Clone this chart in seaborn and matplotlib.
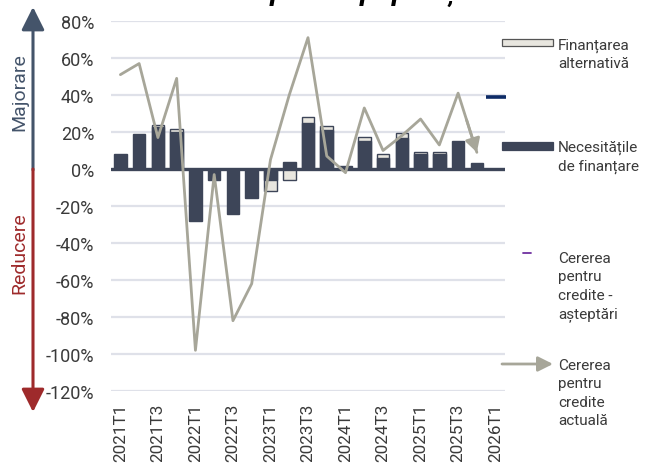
import numpy as np
import matplotlib
matplotlib.use("Agg")
import matplotlib.pyplot as plt
from matplotlib.patches import Rectangle
import seaborn as sns

# ---------------- data ----------------
quarters = ['2021T1', '2021T2', '2021T3', '2021T4', '2022T1', '2022T2', '2022T3', '2022T4',
            '2023T1', '2023T2', '2023T3', '2023T4', '2024T1', '2024T2', '2024T3', '2024T4',
            '2025T1', '2025T2', '2025T3', '2025T4', '2026T1']
necesitati = [8, 19, 22.5, 20, -28, -6, -24.5, -15.5, -6, 4, 25, 21, 1.5, 15, 6, 17, 8, 8, 15, 3, 0]
alternativa = [0, 0, 1.5, 1.5, 0, 0, 0, 0, -6, -6, 3, 2.5, 0, 2.5, 2, 2.5, 1, 1, 0, 0, 0]
cerere_actuala = [51, 57, 17, 49, -98, -3, -82, -62, 5, 40, 71, 7, -2, 33, 10, 18, 27, 13, 41, 9]
cerere_asteptari = [39]
yticks = [80, 60, 40, 20, 0, -20, -40, -60, -80, -100, -120]

title = 'Credite pentru populație'
leg_labels = [['Finanțarea', 'alternativă'],
              ['Necesitățile', 'de finanțare'],
              ['Cererea', 'pentru', 'credite -', 'așteptări'],
              ['Cererea', 'pentru', 'credite', 'actuală']]

# ---------------- style ----------------
navy = '#3d4558'
light = '#e8e6df'
line_c = '#a7a699'
grid_c = '#dfe1e9'
expect_c = '#0d2b66'
purple = '#7030a0'
slate = '#44546a'
red = '#9e2a2b'
txt_c = '#3a3a3a'

sns.set_style('white')
plt.rcParams['font.family'] = ['Roboto', 'DejaVu Sans']

W, H = 648, 464
fig = plt.figure(figsize=(W / 100, H / 100), dpi=100)
ax = fig.add_axes([111 / W, (H - 392) / H, 394 / W, 370 / H])

# stacked ends for the alternative-financing part
alt_end = [n + a if (n * a > 0) else a for n, a in zip(necesitati, alternativa)]

sns.barplot(x=quarters, y=alt_end, order=quarters, color=light, saturation=1,
            width=0.67, edgecolor=navy, linewidth=1.0, ax=ax, zorder=2)
sns.barplot(x=quarters, y=necesitati, order=quarters, color=navy, saturation=1,
            width=0.67, edgecolor=navy, linewidth=1.0, ax=ax, zorder=3)

ax.axhline(0, color=navy, lw=2.4, zorder=4)

xs = np.arange(len(cerere_actuala))
sns.lineplot(x=xs, y=cerere_actuala, color=line_c, lw=2, ax=ax, zorder=5,
             sort=False, estimator=None)
# arrowhead on the last segment
x1, y1 = xs[-1], cerere_actuala[-1]
x0, y0 = xs[-2], cerere_actuala[-2]
t = 0.55
ax.annotate('', xy=(x1, y1), xytext=(x1 - t * (x1 - x0), y1 - t * (y1 - y0)),
            arrowprops=dict(arrowstyle='-|>,head_length=0.9,head_width=0.5',
                            color=line_c, lw=2, shrinkA=0, shrinkB=0,
                            mutation_scale=9), zorder=6)

sns.scatterplot(x=[len(quarters) - 1], y=cerere_asteptari, marker='_', s=220,
                color=expect_c, linewidth=2.6, ax=ax, zorder=6)

ax.set_xlim(-0.5, len(quarters) - 0.5)
ax.set_ylim(-120, 80)
ax.set_yticks(yticks)
ax.set_yticklabels([f'{v}%' for v in yticks], fontsize=13, color=txt_c)
ax.set_xticks(range(0, len(quarters), 2))
ax.set_xticklabels(quarters[::2], rotation=90, fontsize=12.3, color=txt_c)
ax.tick_params(axis='y', length=0, pad=12)
ax.tick_params(axis='x', length=0, pad=8.5)
ax.grid(axis='y', color=grid_c, lw=1.6, zorder=0)
ax.grid(axis='x', visible=False)
ax.set_axisbelow(True)
for s in ax.spines.values():
    s.set_visible(False)
ax.set_xlabel('')
ax.set_ylabel('')
if ax.get_legend():
    ax.get_legend().remove()

# ---------------- title (cut off at top, as in the source) ----------------
fig.text(325 / W, (H + 0.5) / H, title, ha='center', va='baseline', fontsize=21,
         fontweight='bold', fontstyle='italic', color='black')

# ---------------- left direction arrows ----------------
def fpx(x, y):
    return (x / W, (H - y) / H)

ax.annotate('', xy=fpx(33, 8), xytext=fpx(33, 171), xycoords='figure fraction',
            textcoords='figure fraction',
            arrowprops=dict(arrowstyle='-|>,head_length=1.4,head_width=0.7', color=slate,
                            lw=2.2, shrinkA=0, shrinkB=0, mutation_scale=10))
ax.annotate('', xy=fpx(33, 413), xytext=fpx(33, 170), xycoords='figure fraction',
            textcoords='figure fraction',
            arrowprops=dict(arrowstyle='-|>,head_length=1.4,head_width=0.7', color=red,
                            lw=2.2, shrinkA=0, shrinkB=0, mutation_scale=10))
fig.text(*fpx(19, 92), 'Majorare', rotation=90, ha='center', va='center',
         fontsize=14, color=slate)
fig.text(*fpx(19, 253), 'Reducere', rotation=90, ha='center', va='center',
         fontsize=14, color=red)

# ---------------- legend (manual) ----------------
fig.add_artist(Rectangle(fpx(502, 47), 51 / W, 7 / H, transform=fig.transFigure,
                         facecolor=light, edgecolor='#555555', lw=0.9))
fig.add_artist(Rectangle(fpx(502, 151), 51 / W, 8 / H, transform=fig.transFigure,
                         facecolor=navy, edgecolor=navy, lw=0.9))
fig.add_artist(plt.Line2D([523 / W, 531 / W], [(H - 254) / H] * 2,
                          transform=fig.transFigure, color=purple, lw=1.3))
ax.annotate('', xy=fpx(553, 365), xytext=fpx(502, 365), xycoords='figure fraction',
            textcoords='figure fraction',
            arrowprops=dict(arrowstyle='-|>,head_length=0.9,head_width=0.45',
                            color=line_c, lw=2, shrinkA=0, shrinkB=0, mutation_scale=10))

first_baselines = [50, 152, 263, 370]
for lines, b0 in zip(leg_labels, first_baselines):
    for i, ln in enumerate(lines):
        fig.text(558 / W, (H - (b0 + i * 18.3)) / H, ln, ha='left', va='baseline',
                 fontsize=11, color=txt_c)

fig.savefig('out.png', dpi=100)
